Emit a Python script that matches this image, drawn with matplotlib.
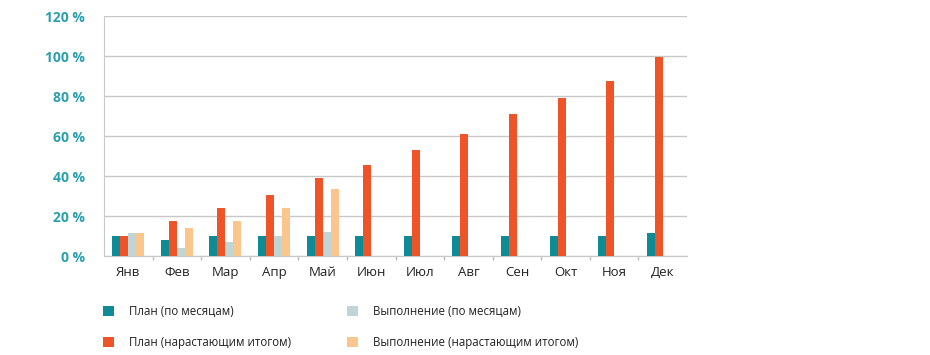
import matplotlib
matplotlib.use("Agg")
import matplotlib.pyplot as plt
import numpy as np
from matplotlib.patches import Patch

plt.rcParams['font.family'] = ['Open Sans', 'DejaVu Sans']

months = ["Янв", "Фев", "Мар", "Апр", "Май", "Июн", "Июл", "Авг", "Сен", "Окт", "Ноя", "Дек"]
plan_month = [10, 8, 10, 10, 10, 10, 10, 10, 10, 10, 10, 11.5]
plan_cum = [10, 17.5, 24, 30.5, 39, 45.5, 53, 61, 71, 79, 87.5, 99.5]
done_month = [11.5, 4, 7, 10, 12, np.nan, np.nan, np.nan, np.nan, np.nan, np.nan, np.nan]
done_cum = [11.5, 14, 17.5, 24, 33.5, np.nan, np.nan, np.nan, np.nan, np.nan, np.nan, np.nan]
series_labels = ["План (по месяцам)", "План (нарастающим итогом)",
                 "Выполнение (по месяцам)", "Выполнение (нарастающим итогом)"]
yticks = [0, 20, 40, 60, 80, 100, 120]

colors = ["#0e8b94", "#ee5427", "#c0d5d5", "#fbc58e"]

fig = plt.figure(figsize=(9.3, 3.55), dpi=100)
ax = fig.add_axes([104/930, 1-256/355, (687-104)/930, 240/355])

x = np.arange(len(months))
w = 0.165
series = [plan_month, plan_cum, done_month, done_cum]
for i, (vals, c) in enumerate(zip(series, colors)):
    ax.bar(x + (i - 1.5) * w, vals, width=w, color=c, zorder=3)

ax.set_xlim(-0.5, 11.5)
ax.set_ylim(0, 120)
ax.set_yticks(yticks)
ax.set_yticklabels([f"{v} %" for v in yticks], color="#2a9fae", fontweight="bold", fontsize=10)
ax.tick_params(axis='y', length=0, pad=14)
ax.set_xticks(x)
ax.set_xticklabels(months, fontsize=9.5, color="#222222")
ax.tick_params(axis='x', length=0, pad=7)
ax.set_xticks(np.arange(0.5, 11.5, 1), minor=True)
ax.tick_params(axis='x', which='minor', length=3, color="#bbbbbb", width=1)
ax.grid(axis='y', color="#c8c8c8", linewidth=1, zorder=0)
for s in ["top", "right"]:
    ax.spines[s].set_visible(False)
ax.spines["left"].set_color("#c8c8c8")
ax.spines["bottom"].set_color("#c8c8c8")

def make_leg(idx, xpos):
    handles = [Patch(facecolor=colors[i], edgecolor='none') for i in idx]
    labels = [series_labels[i] for i in idx]
    leg = fig.legend(handles, labels, loc="upper left", bbox_to_anchor=(xpos, 1-305/355),
                     frameon=False, fontsize=8.3, handlelength=0.95, handleheight=1.0,
                     handletextpad=1.3, labelspacing=1.55, borderaxespad=0, borderpad=0)
    for t in leg.get_texts():
        t.set_color("#222222")
    return leg

make_leg([0, 1], 103/930)
make_leg([2, 3], 347/930)

fig.savefig("out.png", dpi=100)
